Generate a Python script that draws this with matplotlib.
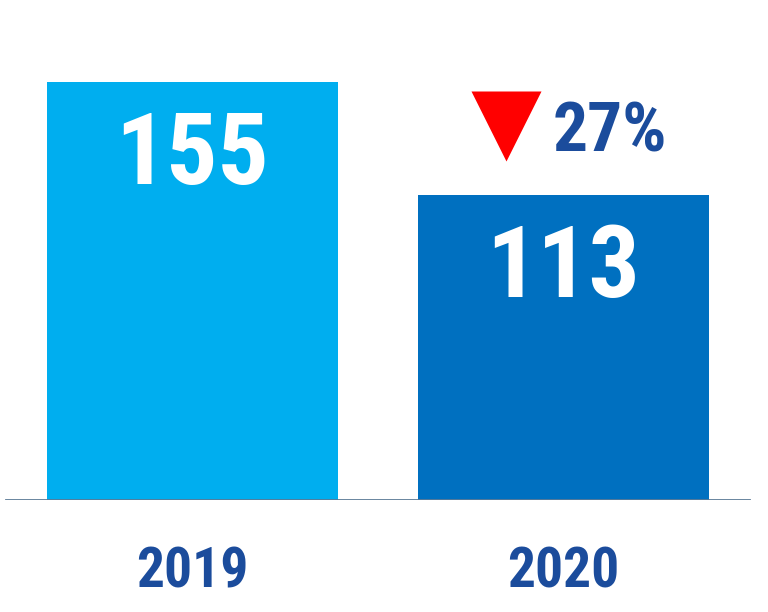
import matplotlib
matplotlib.use('Agg')
import matplotlib.pyplot as plt

years = ['2019', '2020']
values = [155, 113]
change_pct = '27%'

colordict = {
    'bar_2019': '#00AEEF',
    'bar_2020': '#0070C0',
    'navy': '#1B4C9C',
    'red': '#FF0000',
    'base': '#5B7A96',
}

# narrow bold faces first, whichever is installed
fam = ['Roboto Condensed', 'Liberation Sans Narrow', 'DejaVu Sans Condensed',
       'Liberation Sans', 'DejaVu Sans']

fig = plt.figure(figsize=(7.68, 6.12), dpi=100)
ax = fig.add_axes([0, 112 / 612, 1, 500 / 612])
ax.set_xlim(-192.5 / 371, (768 - 192.5) / 371)
ax.set_ylim(0, 500 / 2.697)
ax.axis('off')

x = [0, 1]
ax.bar(x, values, width=291 / 371,
       color=[colordict['bar_2019'], colordict['bar_2020']], zorder=2)
ax.axhline(0, xmin=6 / 768, xmax=749 / 768, color=colordict['base'],
           lw=2, zorder=3)

for xi, v, yr in zip(x, values, years):
    ax.text(xi, v - 27.6, str(v), ha='center', va='center', color='white',
            fontsize=73, fontweight='heavy', family=fam, fontstretch='condensed')
    ax.text(xi, -27.0, yr, ha='center', va='center', color=colordict['navy'],
            fontsize=40, fontweight='heavy', family=fam, fontstretch='condensed',
            clip_on=False)

# decrease marker and label
ax.plot([0.845], [values[1] + 25.7], marker='v', ms=50, color=colordict['red'],
        mec='none', zorder=4)
ax.text(1.125, values[1] + 23.0, change_pct, ha='center', va='center',
        color=colordict['navy'], fontsize=50, fontweight='heavy', family=fam,
        fontstretch='condensed')

plt.savefig('out.png', dpi=100)
